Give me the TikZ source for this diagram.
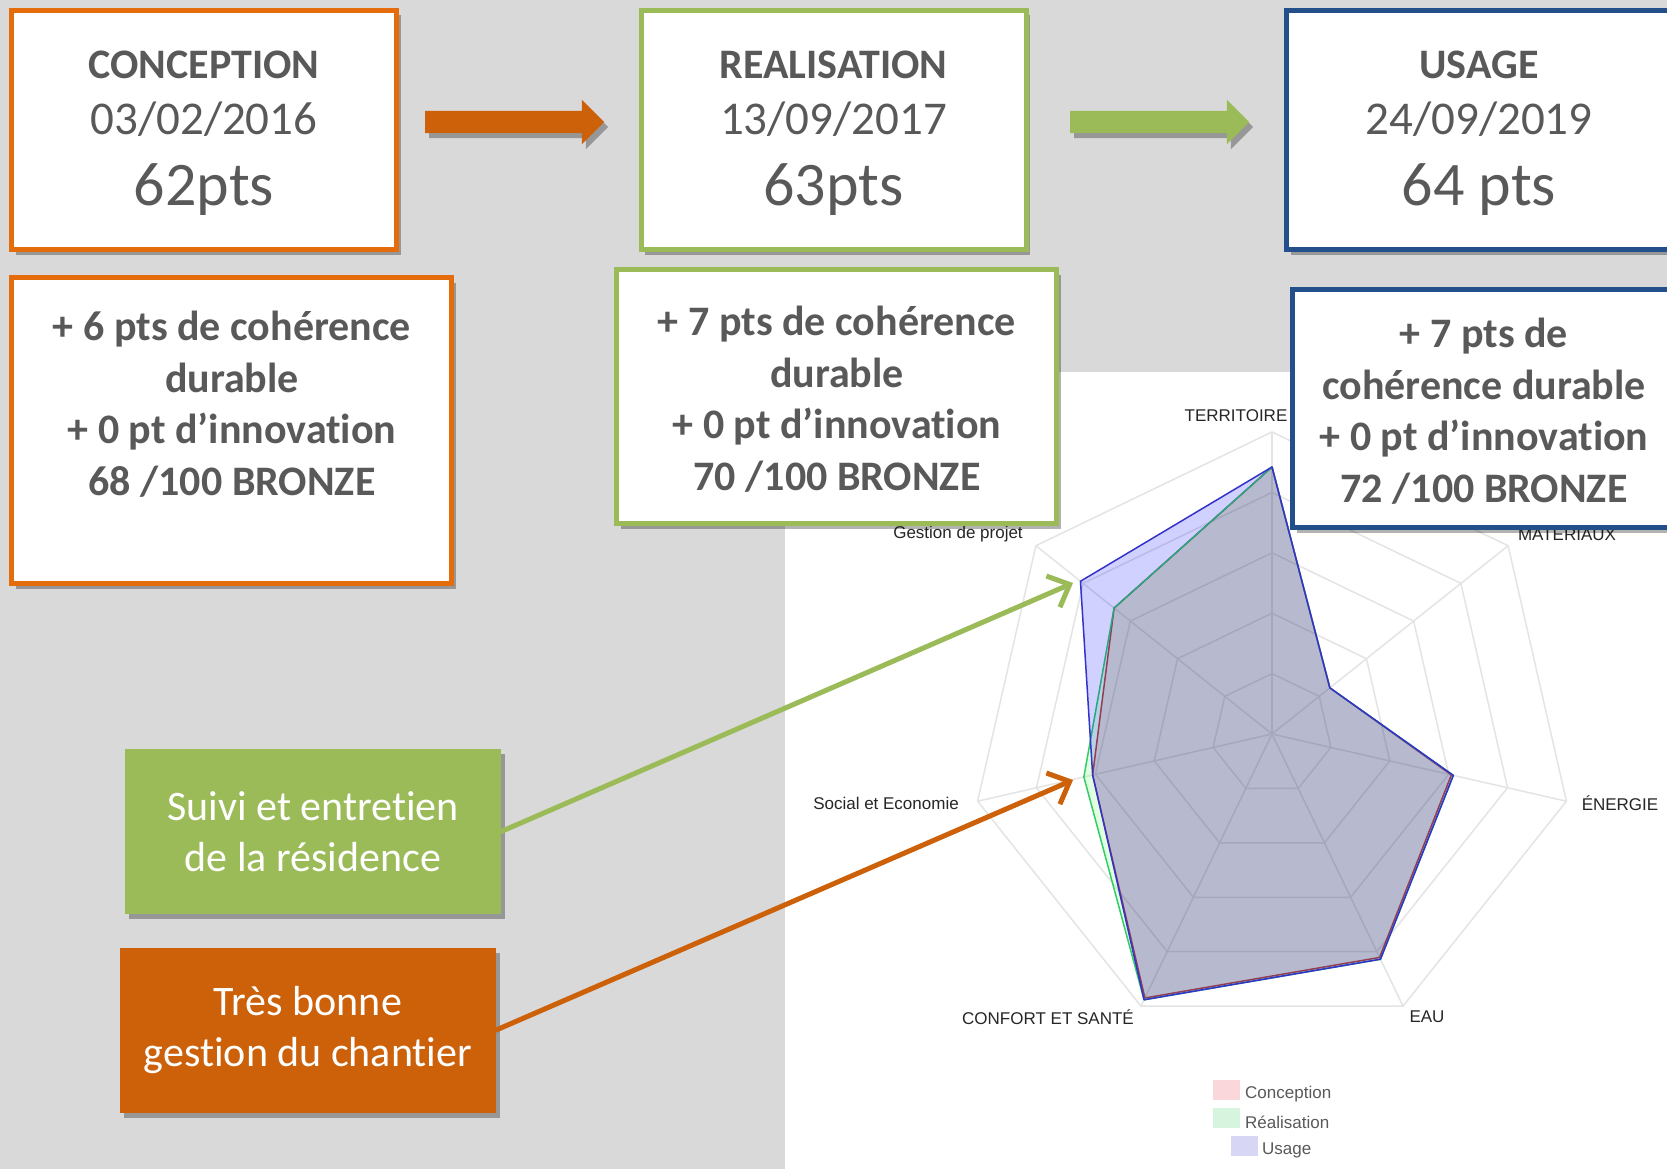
\documentclass[tikz,border=0pt]{standalone}
\usepackage{fontspec}
\setmainfont{Carlito}[Ligatures=NoCommon]
\newfontfamily\chartfont{Liberation Sans}
\usetikzlibrary{positioning,arrows.meta,calc,shadows,shapes.arrows}
\definecolor{bggrey}{HTML}{D9D9D9}
\definecolor{txtgrey}{HTML}{595959}
\definecolor{orng}{HTML}{E46C0A}
\definecolor{dorng}{HTML}{CC610A}
\definecolor{grn}{HTML}{9BBB59}
\definecolor{blu}{HTML}{23508A}
\definecolor{gridgrey}{HTML}{E4E4E4}
\definecolor{lconc}{RGB}{204,51,51}
\definecolor{lreal}{RGB}{51,204,102}
\definecolor{lusage}{RGB}{51,51,204}
\definecolor{legconc}{RGB}{250,215,218}
\definecolor{legreal}{RGB}{215,245,222}
\definecolor{legusage}{RGB}{215,215,245}
\tikzset{
  shdw/.style={drop shadow={shadow xshift=4pt,shadow yshift=-5pt,opacity=.3,fill=black}},
  topbox/.style={draw,line width=5pt,fill=white,minimum width=385pt,minimum height=239pt,shdw},
  infobox/.style={draw,line width=5pt,fill=white,minimum width=440pt,shdw},
  ttl/.style={anchor=base,text=txtgrey,font=\fontsize{42}{50}\selectfont\bfseries},
  datetxt/.style={anchor=base,text=txtgrey,font=\fontsize{47}{56}\selectfont},
  ptstxt/.style={anchor=base,text=txtgrey,font=\fontsize{62}{74}\selectfont},
  info/.style={anchor=base,align=center,text=txtgrey,font=\fontsize{42}{51.5}\selectfont\bfseries},
  callout/.style={minimum width=376pt,minimum height=165pt,align=center,text=white,
                  font=\fontsize{42}{51.5}\selectfont,shdw},
  blockarr/.style={single arrow,single arrow head extend=11pt,minimum height=179pt,
                   minimum width=44pt,inner sep=0pt,inner ysep=11pt,shdw},
  callarr/.style={-{Straight Barb[length=18pt,width=34pt]},line width=5pt,line cap=round},
  gridln/.style={draw=gridgrey,line width=1.5pt},
  axlbl/.style={text=black!85,font=\chartfont\fontsize{17}{20}\selectfont,inner sep=0pt},
  leglbl/.style={anchor=west,text=black!65,font=\chartfont\fontsize{17}{20}\selectfont,inner sep=0pt},
  legsq/.style={minimum width=27pt,minimum height=20pt,inner sep=0pt},
}

\begin{document}
\begin{tikzpicture}[x=1pt,y=-1pt]
\useasboundingbox (0,0) rectangle (1667,1169);
\fill[bggrey] (0,0) rectangle (1667,1169);
\fill[white] (785,372) rectangle (1667,1169);

\begin{scope}[shift={(1272,734)},yscale=-1]
\foreach \lv in {1,...,5}
  \draw[gridln] (90:{60.4*\lv}) \foreach \k in {1,...,6}{ -- ({90-\k*360/7}:{60.4*\lv})} -- cycle;
\foreach \k in {0,...,6}
  \draw[gridln] (0,0) -- ({90-\k*360/7}:302);
\foreach \lc/\fc/\fo/\ra/\rb/\rc/\rd/\re/\rf/\rg in
   {lconc/red/.12/267/74/184/248/293/184/202,
    lreal/green/.12/267/74/186/250/295/193/202,
    lusage/blue/.18/267/74/186/250/295/184/245}
  \filldraw[draw=\lc,line width=1.5pt,fill=\fc,fill opacity=\fo,line join=round]
    (90:\ra) -- (38.57:\rb) -- (-12.86:\rc) -- (-64.29:\rd) -- (-115.71:\re)
    -- (-167.14:\rf) -- (-218.57:\rg) -- cycle;
\end{scope}

\node[axlbl] (terr) at (1236,416) {TERRITOIRE};
\node[axlbl] (mat) at (1567,535) {MATERIAUX};
\node[axlbl] (ener) at (1620,803) {ÉNERGIE};
\node[axlbl] (eau) at (1427,1017) {EAU};
\node[axlbl] (conf) at (1048,1017) {CONFORT ET SANTÉ};
\node[axlbl] (soc) at (886,803) {Social et Economie};
\node[axlbl] (gest) at (958,534) {Gestion de projet};

\node[legsq,fill=legconc] (sqc) at (1226.5,1089.5) {};
\node[leglbl] (lgc) at (1245,1094) {Conception};
\node[legsq,fill=legreal] (sqr) at (1226.5,1117.5) {};
\node[leglbl] (lgr) at (1245,1122) {Réalisation};
\node[legsq,fill=legusage] (squ) at (1244.5,1146) {};
\node[leglbl] (lgu) at (1262,1150) {Usage};

\node[topbox,draw=orng] (conc) at (204,130) {};
\node[ttl] (concT) at (204,79) {CONCEPTION};
\node[datetxt] (concD) at (204,135) {03/02/2016};
\node[ptstxt] (concP) at (204,205) {62pts};
\node[topbox,draw=grn] (real) at (833.5,130) {};
\node[ttl] (realT) at (833.5,79) {REALISATION};
\node[datetxt] (realD) at (833.5,135) {13/09/2017};
\node[ptstxt] (realP) at (833.5,205) {63pts};
\node[topbox,draw=blu] (usage) at (1479,130) {};
\node[ttl] (usageT) at (1479,79) {USAGE};
\node[datetxt] (usageD) at (1479,135) {24/09/2019};
\node[ptstxt] (usageP) at (1479,205) {64 pts};

\node[blockarr,fill=dorng] (arr1) at (509,122) {};
\node[blockarr,fill=grn] (arr2) at (1154,122) {};

\node[infobox,draw=orng,minimum height=306pt] (concI) at (231.5,430.5) {};
\node[info] (concIT) at (232,495) {+ 6 pts de cohérence\\durable\\+ 0 pt d’innovation\\68 /100 BRONZE};
\node[infobox,draw=grn,minimum height=254pt] (realI) at (836.5,396.5) {};
\node[info] (realIT) at (837,490) {+ 7 pts de cohérence\\durable\\+ 0 pt d’innovation\\70 /100 BRONZE};
\node[infobox,draw=blu,minimum width=383pt,minimum height=238pt] (usageI) at (1484,408.5) {};
\node[info] (usageIT) at (1484,502) {+ 7 pts de\\cohérence durable\\+ 0 pt d’innovation\\72 /100 BRONZE};

\node[callout,fill=grn] (suivi) at (313,831.5) {Suivi et entretien\\de la résidence};
\node[callout,fill=dorng] (chant) at (308,1030) {Très bonne\\gestion du chantier};

\coordinate (gtip) at (1073,583);
\coordinate (otip) at (1073,780);
\draw[callarr,grn] (suivi.east) -- (gtip);
\draw[callarr,dorng] (chant.east) -- (otip);
\end{tikzpicture}
\end{document}
